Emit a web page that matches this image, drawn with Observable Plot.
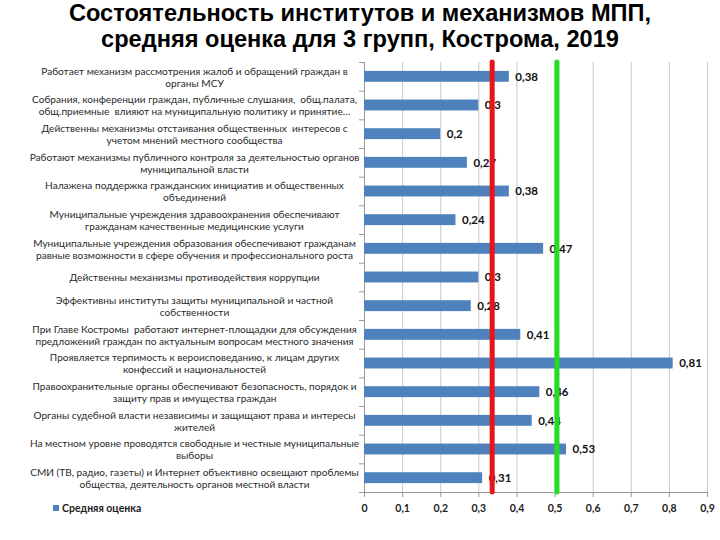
<!DOCTYPE html>
<html><head><meta charset="utf-8">
<script src="https://cdn.jsdelivr.net/npm/d3@7"></script>
<script src="https://cdn.jsdelivr.net/npm/@observablehq/plot@0.6"></script>
<style>
body{margin:0;background:#fff;width:720px;height:540px;position:relative;overflow:hidden}
#title{height:57px;text-align:center;font:bold 23.6px "Liberation Sans",Arial,sans-serif;line-height:26px;padding-top:0;box-sizing:border-box;color:#000}
#legend{position:absolute;left:53px;top:502px;font:bold 10.5px "Lato","Liberation Sans",sans-serif;color:#222;display:flex;align-items:center}
#legend span.sw{display:inline-block;width:6px;height:6px;background:#4F81BD;margin-right:3px}
</style></head><body>
<div id="title">Состоятельность институтов и механизмов МПП,<br>средняя оценка для 3 групп, Кострома, 2019</div>
<div id="chart"></div>
<div id="legend"><span class="sw"></span>Средняя оценка</div>
<script>
const categories = [
  "Работает механизм рассмотрения жалоб и обращений граждан в\nорганы МСУ",
  "Собрания, конференции граждан, публичные слушания,  общ.палата,\nобщ.приемные  влияют на муниципальную политику и принятие…",
  "Действенны механизмы отстаивания общественных  интересов с\nучетом мнений местного сообщества",
  "Работают механизмы публичного контроля за деятельностью органов\nмуниципальной власти",
  "Налажена поддержка гражданских инициатив и общественных\nобъединений",
  "Муниципальные учреждения здравоохранения обеспечивают\nгражданам качественные медицинские услуги",
  "Муниципальные учреждения образования обеспечивают гражданам\nравные возможности в сфере обучения и профессионального роста",
  "Действенны механизмы противодействия коррупции",
  "Эффективны институты защиты муниципальной и частной\nсобственности",
  "При Главе Костромы  работают интернет-площадки для обсуждения\nпредложений граждан по актуальным вопросам местного значения",
  "Проявляется терпимость к вероисповеданию, к лицам других\nконфессий и национальностей",
  "Правоохранительные органы обеспечивают безопасность, порядок и\nзащиту прав и имущества граждан",
  "Органы судебной власти независимы и защищают права и интересы\nжителей",
  "На местном уровне проводятся свободные и честные муниципальные\nвыборы",
  "СМИ (ТВ, радио, газеты) и Интернет объективно освещают проблемы\nобщества, деятельность органов местной власти"
];
const values = [0.38, 0.3, 0.2, 0.27, 0.38, 0.24, 0.47, 0.3, 0.28, 0.41, 0.81, 0.46, 0.44, 0.53, 0.31];
const xTicks = [0, 0.1, 0.2, 0.3, 0.4, 0.5, 0.6, 0.7, 0.8, 0.9];
const redLine = 0.335;
const greenLine = 0.505;

const data = categories.map((c, i) => ({cat: c, i, value: values[i]}));
const comma = v => String(+v.toFixed(2)).replace(".", ",");
const boundaries = d3.range(categories.length + 1).map(k => k - 0.5);

const chart = Plot.plot({
  width: 720, height: 483,
  marginTop: 5, marginBottom: 48, marginLeft: 364, marginRight: 13,
  x: {domain: [0, 0.9], label: null},
  y: {domain: [-0.5, categories.length - 0.5], reverse: true, label: null},
  style: {fontFamily: "Lato, 'Liberation Sans', sans-serif", background: "#fff", overflow: "visible"},
  marks: [
    Plot.gridX(xTicks.slice(1), {stroke: "#c8c8c8", strokeOpacity: 1, strokeWidth: 1}),
    Plot.axisX(xTicks, {label: null, tickSize: 5, tickPadding: 7, stroke: "#999", tickFormat: comma, fontWeight: "bold", fontSize: 10.5, fill: "#222"}),
    Plot.axisY(boundaries, {label: null, tickSize: 5, tickFormat: () => "", stroke: "#999"}),
    Plot.ruleX([0], {stroke: "#999"}),
    Plot.ruleY([categories.length - 0.5], {stroke: "#999"}),
    Plot.rectX(data, {x1: 0, x2: "value", y1: d => d.i - 0.19, y2: d => d.i + 0.19, fill: "#4F81BD"}),
    Plot.text(data, {x: "value", y: "i", text: d => comma(d.value), dx: 6, textAnchor: "start", fontWeight: "bold", fontSize: 11.5, fill: "#111"}),
    Plot.ruleX([redLine], {stroke: "#E8141B", strokeWidth: 5, strokeLinecap: "round"}),
    Plot.ruleX([greenLine], {stroke: "#22DD22", strokeWidth: 5, strokeLinecap: "round"}),
    Plot.text(data, {x: 0, y: "i", text: "cat", dx: -170, textAnchor: "middle", lineHeight: 1.2, fontSize: 10.1, fill: "#2a2a2a", ariaLabel: "catlabels"})
  ]
});
document.getElementById("chart").appendChild(chart);
const rightEdge = 355;
chart.querySelectorAll('g[aria-label="catlabels"] text').forEach(t => {
  const b = t.getBBox();
  const shift = rightEdge - (b.x + b.width);
  const tr = t.getAttribute("transform") || "";
  t.setAttribute("transform", tr + ` translate(${shift},0)`);
});
</script>
</body></html>
